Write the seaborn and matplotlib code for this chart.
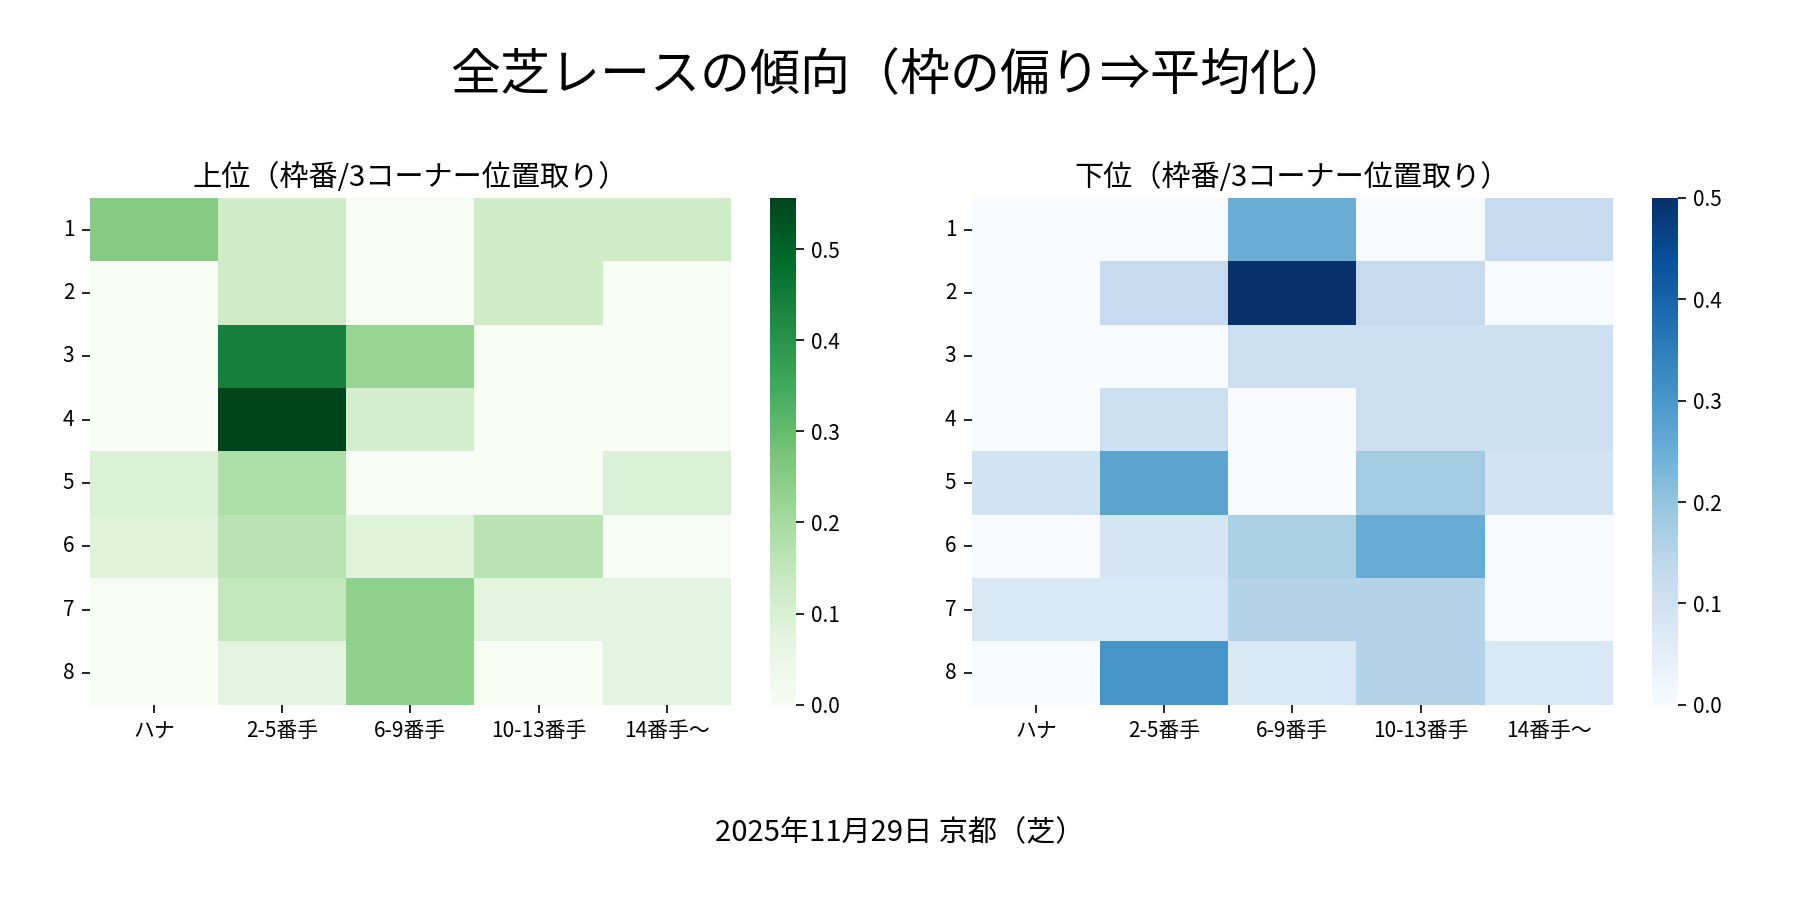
import numpy as np
import pandas as pd
import seaborn as sns
import matplotlib
matplotlib.use("Agg")
import matplotlib.pyplot as plt

sns.set_theme(style="white")
plt.rcParams['font.family'] = ['Noto Sans CJK JP', 'DejaVu Sans']
plt.rcParams['text.color'] = 'black'
plt.rcParams['xtick.color'] = 'black'
plt.rcParams['ytick.color'] = 'black'
plt.rcParams['axes.labelcolor'] = 'black'

# 軸ラベル
waku = ["1", "2", "3", "4", "5", "6", "7", "8"]
ichi = ["ハナ", "2-5番手", "6-9番手", "10-13番手", "14番手〜"]

# 上位（枠番 x 3コーナー位置取り）
upper = [
    [0.25,  0.12,  0.0,   0.12,  0.12],
    [0.0,   0.12,  0.0,   0.12,  0.0],
    [0.0,   0.444, 0.222, 0.0,   0.0],
    [0.0,   0.556, 0.111, 0.0,   0.0],
    [0.093, 0.184, 0.0,   0.0,   0.093],
    [0.083, 0.164, 0.083, 0.164, 0.0],
    [0.0,   0.145, 0.235, 0.078, 0.078],
    [0.0,   0.078, 0.235, 0.0,   0.078],
]

# 下位（枠番 x 3コーナー位置取り）
lower = [
    [0.0,   0.0,   0.25,  0.0,   0.125],
    [0.0,   0.125, 0.5,   0.125, 0.0],
    [0.0,   0.0,   0.107, 0.107, 0.107],
    [0.0,   0.107, 0.0,   0.107, 0.107],
    [0.094, 0.273, 0.0,   0.18,  0.094],
    [0.0,   0.086, 0.167, 0.255, 0.0],
    [0.076, 0.076, 0.153, 0.153, 0.0],
    [0.0,   0.306, 0.076, 0.153, 0.076],
]

df_up = pd.DataFrame(upper, index=waku, columns=ichi)
df_low = pd.DataFrame(lower, index=waku, columns=ichi)

fig = plt.figure(figsize=(12, 6), dpi=150)

ax1 = fig.add_axes([0.050, 0.217, 0.356, 0.563])
cax1 = fig.add_axes([0.428, 0.217, 0.0141, 0.563])
ax2 = fig.add_axes([0.540, 0.217, 0.356, 0.563])
cax2 = fig.add_axes([0.918, 0.217, 0.0141, 0.563])

sns.heatmap(df_up, cmap="Greens", ax=ax1, cbar_ax=cax1, vmin=0)
sns.heatmap(df_low, cmap="Blues", ax=ax2, cbar_ax=cax2, vmin=0)

for ax, cax, title in [(ax1, cax1, "上位（枠番/3コーナー位置取り）"),
                       (ax2, cax2, "下位（枠番/3コーナー位置取り）")]:
    ax.set_title(title, fontsize=14, pad=6)
    ax.set_xlabel("")
    ax.set_ylabel("")
    ax.tick_params(axis="both", labelsize=10, length=4, width=0.8, left=True, bottom=True)
    ax.set_yticklabels(ax.get_yticklabels(), rotation=0)
    ax.set_xticklabels(ax.get_xticklabels(), rotation=0)
    cax.tick_params(labelsize=10, length=4, width=0.8, right=True)
    cax.yaxis.set_major_locator(matplotlib.ticker.MultipleLocator(0.1))
    cax.yaxis.set_major_formatter(matplotlib.ticker.FormatStrFormatter("%.1f"))

fig.suptitle("全芝レースの傾向（枠の偏り⇒平均化）", fontsize=24, y=0.915, va="center")
fig.text(0.5, 0.074, "2025年11月29日 京都（芝）", ha="center", va="center", fontsize=14)

fig.savefig("out.png", dpi=150)
